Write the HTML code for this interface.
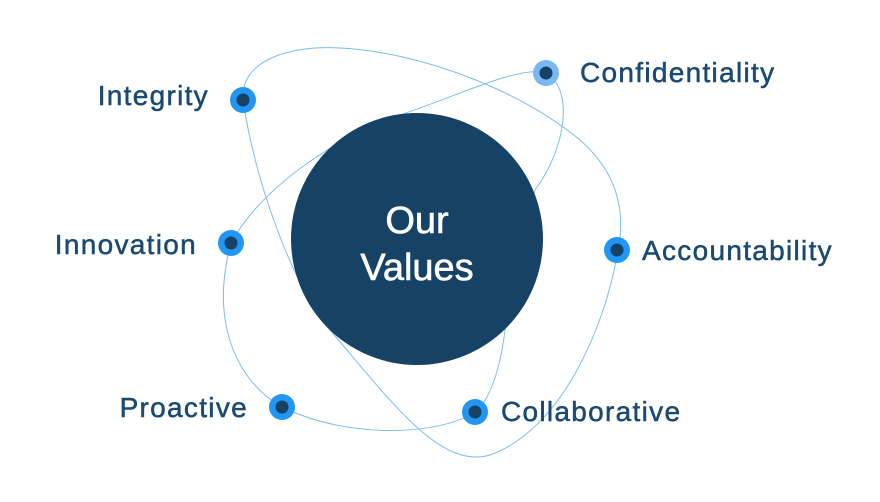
<!DOCTYPE html>
<html><head><meta charset="utf-8"><style>
html,body{margin:0;padding:0;background:#fff;}
svg{display:block;}
text{font-family:"Liberation Sans",sans-serif;}
</style></head><body>
<svg width="880" height="502" viewBox="0 0 880 502" xmlns="http://www.w3.org/2000/svg">
<g fill="none" stroke="#7cbcf0" stroke-width="1">
<path d="M243,100 C240,60 290,45 340,48 C420,52 520,90 580,140 C620,175 625,215 618,250 C605,330 560,430 490,455 C440,470 390,400 330,330 C290,280 255,180 243,100 Z"/>
<path d="M546,73 C575,90 565,150 535,190 L505,330 C500,370 490,400 475,412 C440,435 350,440 282,407 C235,380 210,320 231,243 C260,190 330,140 400,115 C460,95 520,65 546,73 Z"/>
</g>
<circle cx="417" cy="239" r="126" fill="#164266"/>
<g fill="#fff" stroke="#fff" stroke-width="0.6" font-size="38" text-anchor="middle">
<text x="417" y="233">Our</text>
<text x="417" y="280">Values</text>
</g>
<g>
<circle cx="243" cy="100" r="13" fill="#2196f3"/><circle cx="243" cy="100" r="6.5" fill="#164266"/>
<circle cx="546" cy="73" r="13" fill="#79b8f2"/><circle cx="546" cy="73" r="6.5" fill="#164266"/>
<circle cx="617" cy="250" r="13" fill="#2196f3"/><circle cx="617" cy="250" r="6.5" fill="#164266"/>
<circle cx="231" cy="243" r="13" fill="#2196f3"/><circle cx="231" cy="243" r="6.5" fill="#164266"/>
<circle cx="282" cy="407" r="13" fill="#2196f3"/><circle cx="282" cy="407" r="6.5" fill="#164266"/>
<circle cx="475" cy="412" r="13" fill="#2196f3"/><circle cx="475" cy="412" r="6.5" fill="#164266"/>
</g>
<g fill="#1a4a70" stroke="#1a4a70" stroke-width="0.5" font-size="28" letter-spacing="1.3">
<text x="209" y="105" text-anchor="end">Integrity</text>
<text x="580" y="82">Confidentiality</text>
<text x="642" y="260">Accountability</text>
<text x="197" y="254" text-anchor="end">Innovation</text>
<text x="248" y="417" text-anchor="end">Proactive</text>
<text x="501" y="421">Collaborative</text>
</g>
</svg>
</body></html>
